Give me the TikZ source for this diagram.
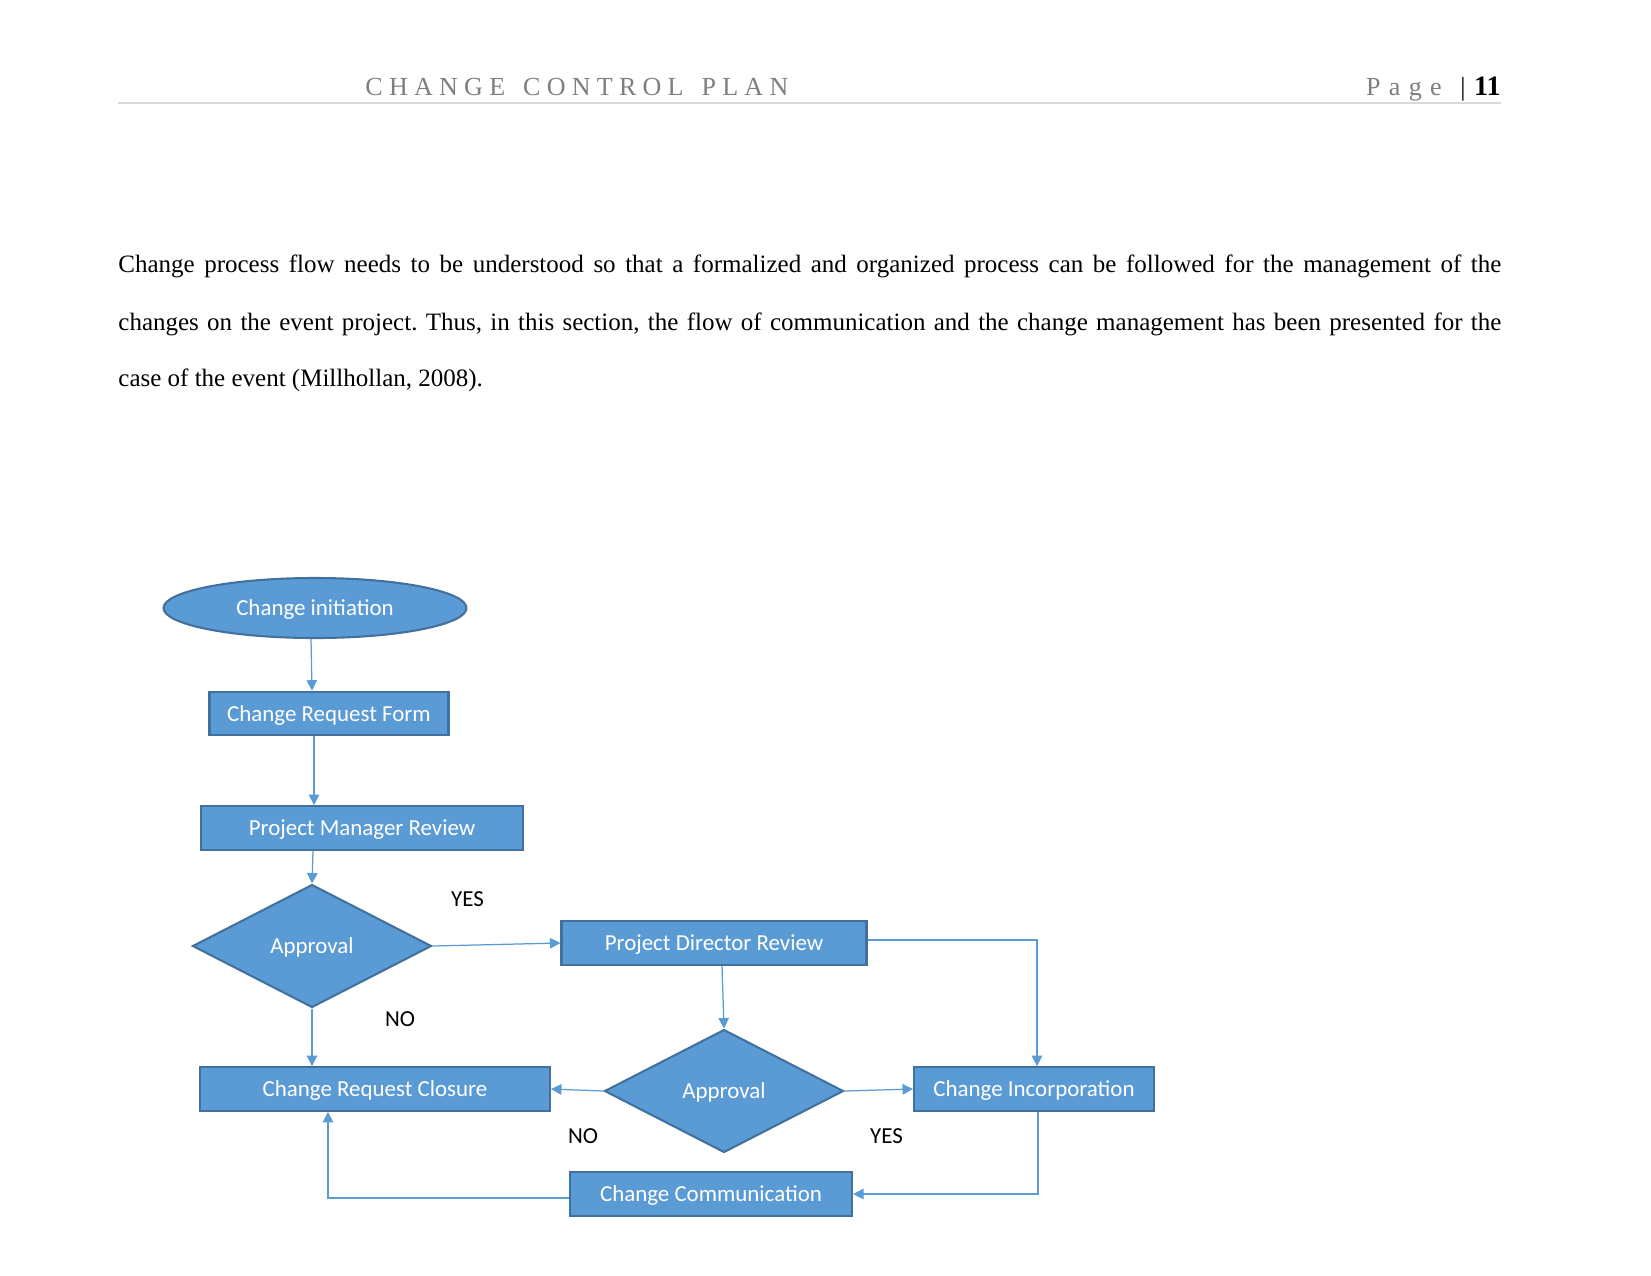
\documentclass[tikz,border=0pt]{standalone}
\usepackage{fontspec}
\setmainfont{Liberation Serif}
\newfontfamily\calfont{Carlito}
\usetikzlibrary{shapes.geometric,arrows.meta,calc}
\definecolor{fillblue}{HTML}{5B9BD5}
\definecolor{edgeblue}{HTML}{41719C}
\definecolor{hgray}{HTML}{7F7F7F}
\definecolor{rulegray}{HTML}{D9D9D9}
\frenchspacing
\begin{document}
\begin{tikzpicture}[x=0.48pt,y=-0.48pt,
  box/.style={draw=edgeblue, fill=fillblue, line width=1pt, text=white,
    font=\calfont\fontsize{11}{13}\selectfont, inner sep=0pt, minimum height=21pt,
    text height=9pt, text depth=1.5pt},
  diam/.style={diamond, box, minimum width=114.7pt, minimum height=59pt},
  conn/.style={draw=fillblue, line width=0.6pt, -{Triangle[width=5pt,length=5pt]}},
  lbl/.style={font=\calfont\fontsize{11}{13}\selectfont, text=black, inner sep=0pt},
  bodyline/.style={anchor=base west, inner sep=0pt, font=\fontsize{12}{14}\selectfont},
  hdr/.style={inner sep=0pt, font=\fontsize{12.5}{15}\selectfont}]
\useasboundingbox (0,0) rectangle (1651,1275);
\fill[white] (0,0) rectangle (1651,1275);

% header
\node[hdr, anchor=base west, text=hgray] (title) at (365,95.5)
  {\addfontfeature{LetterSpace=24}CHANGE\hspace{2.5pt} CONTROL\hspace{2.5pt} PLAN};
\node[hdr, anchor=base east] (page) at (1501,95.5)
  {{\color{hgray}\addfontfeature{LetterSpace=32}Page}\hspace{9pt}|\hspace{4pt}{\fontsize{13.5}{15}\selectfont\bfseries 11}};
\draw[rulegray, line width=0.6pt] (118,103) -- (1501,103);

% paragraph
\node[bodyline] (l1) at (118,272) {\makebox[663.8pt][s]{Change process flow needs to be understood so that a formalized and organized process can be followed for the management of the}};
\node[bodyline] (l2) at (118,330) {\makebox[663.8pt][s]{changes on the event project. Thus, in this section, the flow of communication and the change management has been presented for the}};
\node[bodyline] (l3) at (118,386) {case of the event (Millhollan, 2008).};

% nodes
\node[ellipse, box, minimum width=145.4pt, minimum height=28.8pt] (init) at (315,608) {Change initiation};
\node[box, minimum width=114.7pt] (crf) at (329,713.5) {Change Request Form};
\node[box, minimum width=154.6pt] (pmr) at (362,828) {Project Manager Review};
\node[diam] (ap1) at (312,946) {Approval};
\node[box, minimum width=146.4pt] (pdr) at (714,943) {Project Director Review};
\node[box, minimum width=168pt] (crc) at (375,1089) {Change Request Closure};
\node[diam] (ap2) at (724,1091) {Approval};
\node[box, minimum width=115.2pt] (ci) at (1034,1089) {Change Incorporation};
\node[box, minimum width=135.4pt] (cc) at (711,1194) {Change Communication};

\node[lbl] (yes1) at (467.5,899) {YES};
\node[lbl] (no1) at (400,1019) {NO};
\node[lbl] (no2) at (583,1136) {NO};
\node[lbl] (yes2) at (886.5,1136) {YES};

% connectors
\draw[conn] ($(init.south)+(-4,0)$) -- ($(crf.north)+(-17,0)$);
\draw[conn] ($(crf.south)+(-15,0)$) -- ($(pmr.north)+(-48,0)$);
\draw[conn] ($(pmr.south)+(-49,0)$) -- (ap1.north);
\draw[conn] (ap1.east) -- (pdr.west);
\draw[conn] (ap1.south) -- (ap1.south |- crc.north);
\draw[conn] ($(pdr.east)+(0,-3)$) -| ($(ci.north)+(3,0)$);
\draw[conn] ($(pdr.south)+(8,0)$) -- (ap2.north);
\draw[conn] (ap2.west) -- (crc.east);
\draw[conn] (ap2.east) -- (ci.west);
\draw[conn] ($(ci.south)+(4,0)$) |- (cc.east);
\draw[conn] ($(cc.west)+(0,4)$) -| ($(crc.south)+(-47,0)$);
\end{tikzpicture}
\end{document}
